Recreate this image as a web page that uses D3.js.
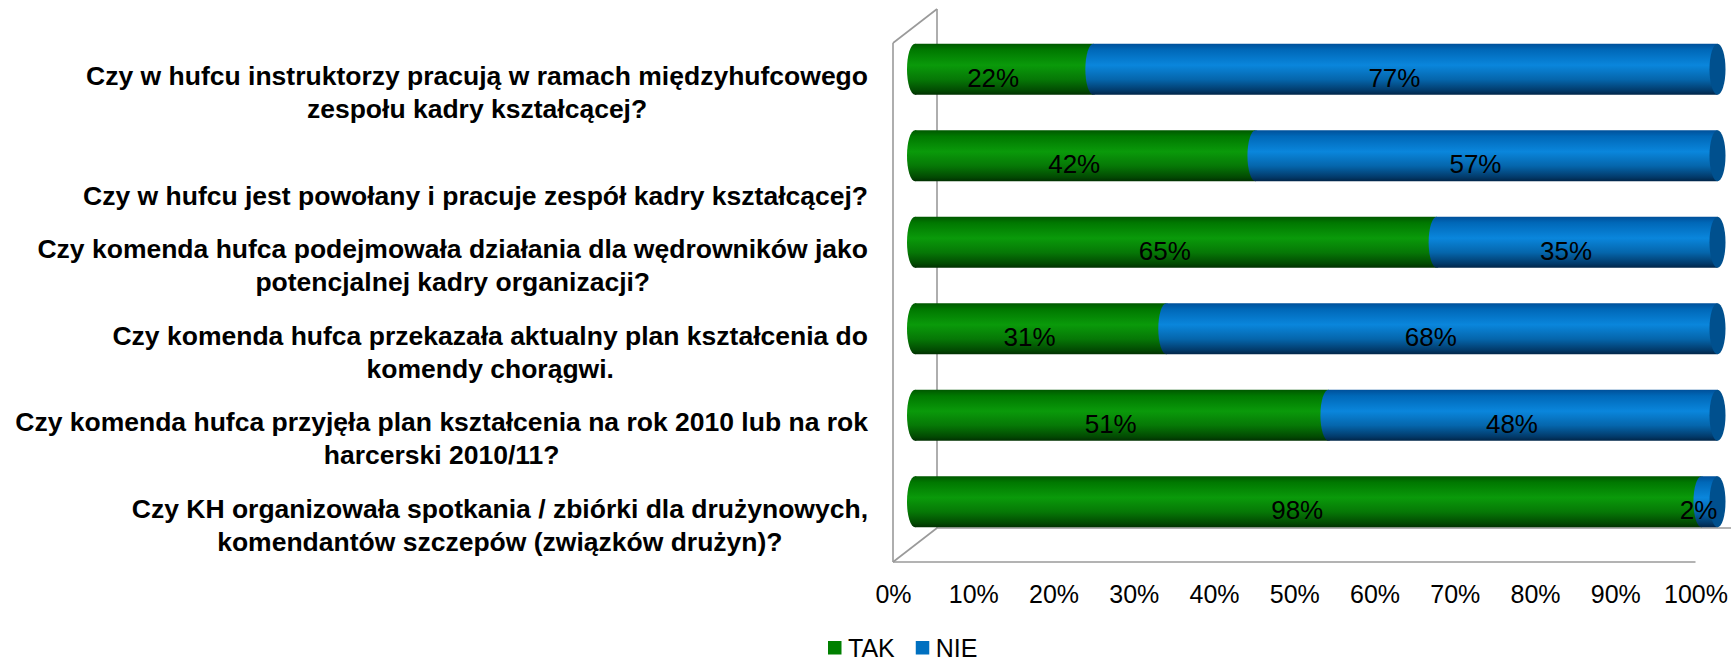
<!DOCTYPE html>
<html><head><meta charset="utf-8">
<script src="https://cdn.jsdelivr.net/npm/d3@7"></script>
<style>
body{margin:0;background:#fff}
svg{display:block}
text{font-family:"Liberation Sans",Arial,sans-serif;fill:#000}
</style>
</head><body>
<svg id="c" width="1731" height="663"></svg>
<script>
// ---- data ----
const categories = [
  ["Czy w hufcu instruktorzy pracują w ramach międzyhufcowego", "zespołu kadry kształcącej?"],
  ["", "Czy w hufcu jest powołany i pracuje zespół kadry kształcącej?"],
  ["Czy komenda hufca podejmowała działania dla wędrowników jako", "potencjalnej kadry organizacji?"],
  ["Czy komenda hufca przekazała aktualny plan kształcenia do", "komendy chorągwi."],
  ["Czy komenda hufca przyjęła plan kształcenia na rok 2010 lub na rok", "harcerski 2010/11?"],
  ["Czy KH organizowała spotkania / zbiórki dla drużynowych,", "komendantów szczepów (związków drużyn)?"]
];
const seriesNames = ["TAK", "NIE"];
const takValues = [22, 42, 65, 31, 51, 98];
const nieValues = [77, 57, 35, 68, 48, 2];
const tickValues = [0, 0.1, 0.2, 0.3, 0.4, 0.5, 0.6, 0.7, 0.8, 0.9, 1];
const tickLabels = ["0%", "10%", "20%", "30%", "40%", "50%", "60%", "70%", "80%", "90%", "100%"];

// ---- layout ----
const svg = d3.select("#c");
svg.append("rect").attr("width", 1731).attr("height", 663).attr("fill", "#fff");
const DX = 44, DY = -34;           // 3D depth offset
const x = d3.scaleLinear().domain([0, 1]).range([893, 1695.5]);
const y = d3.scaleBand().domain(d3.range(categories.length)).range([43, 562]);
const barH = 51, rx = 8;
const frontCenter = i => y(i) + y.bandwidth() / 2;

const rows = categories.map((c, i) => ({ i, TAK: takValues[i], NIE: nieValues[i] }));
const stacked = d3.stack().keys(seriesNames).offset(d3.stackOffsetExpand)(rows);

// gradients
const defs = svg.append("defs");
const grads = {
  TAK: [["0", "#005800"], ["0.12", "#007800"], ["0.42", "#0a9a0a"], ["0.7", "#067806"], ["0.92", "#024a02"], ["1", "#013001"]],
  NIE: [["0", "#00509a"], ["0.12", "#0068b8"], ["0.42", "#0a86dc"], ["0.7", "#0566ac"], ["0.92", "#023a6a"], ["1", "#012548"]]
};
Object.entries(grads).forEach(([k, stops]) => {
  const g = defs.append("linearGradient").attr("id", "g" + k).attr("x1", 0).attr("y1", 0).attr("x2", 0).attr("y2", 1);
  stops.forEach(([o, c]) => g.append("stop").attr("offset", o).attr("stop-color", c));
});
const capColor = { TAK: "#056a05", NIE: "#00508e" };

// frame (walls / floor)
const frame = svg.append("g").attr("stroke", "#9a9a9a").attr("stroke-width", 1.6).attr("fill", "none");
const x0 = x(0), yt = y.range()[0], yb = y.range()[1];
frame.append("line").attr("x1", x0 + DX).attr("y1", yt + DY).attr("x2", x0 + DX).attr("y2", yb + DY);
frame.append("line").attr("x1", x0 + DX).attr("y1", yb + DY).attr("x2", x(1) + DX).attr("y2", yb + DY);
frame.append("line").attr("x1", x0).attr("y1", yt).attr("x2", x0).attr("y2", yb);
frame.append("line").attr("x1", x0).attr("y1", yt).attr("x2", x0 + DX).attr("y2", yt + DY);
frame.append("line").attr("x1", x0).attr("y1", yb).attr("x2", x0 + DX).attr("y2", yb + DY);
frame.append("line").attr("x1", x0).attr("y1", yb).attr("x2", x(1)).attr("y2", yb);

// bars (cylinders)
const bars = svg.append("g");
stacked.forEach((s, si) => {
  s.forEach((d, i) => {
    const a = x(d[0]) + DX / 2, b = x(d[1]) + DX / 2;
    const cy = frontCenter(i) + DY / 2;
    const g = bars.append("g");
    g.append("rect").attr("x", a).attr("y", cy - barH / 2).attr("width", Math.max(0, b - a)).attr("height", barH)
      .attr("fill", `url(#g${s.key})`);
    g.append("ellipse").attr("cx", a).attr("cy", cy).attr("rx", rx).attr("ry", barH / 2)
      .attr("fill", `url(#g${s.key})`);
    if (si === stacked.length - 1) {
      g.append("ellipse").attr("cx", b).attr("cy", cy).attr("rx", rx).attr("ry", barH / 2)
        .attr("fill", capColor[s.key]);
    }
  });
});

// data labels
const lab = svg.append("g").attr("font-size", 26).attr("text-anchor", "middle");
stacked.forEach((s) => {
  s.forEach((d, i) => {
    const v = s.key === "TAK" ? takValues[i] : nieValues[i];
    const cx = (x(d[0]) + x(d[1])) / 2 + DX / 4;
    const cy = frontCenter(i) + DY / 4;
    lab.append("text").attr("x", cx).attr("y", cy + 0.35 * 26).text(v + "%");
  });
});

// category labels
const catFs = 26.5, lineH = 33, rightEdge = 868;
const cats = svg.append("g").attr("font-size", catFs).attr("font-weight", "bold");
categories.forEach((lines, i) => {
  const g = cats.append("g");
  const ts = lines.map(l => g.append("text").attr("text-anchor", "middle").text(l));
  const maxW = d3.max(ts, t => t.node().getComputedTextLength());
  const blockC = frontCenter(i) + 6;
  ts.forEach((t, k) => {
    const lc = blockC + (k - (lines.length - 1) / 2) * lineH;
    t.attr("x", rightEdge - maxW / 2).attr("y", lc + 0.35 * catFs);
  });
});

// x axis
const axis = d3.axisBottom(x).tickValues(tickValues).tickFormat((d, i) => tickLabels[i]).tickSize(0).tickPadding(0);
const ax = svg.append("g").attr("transform", `translate(0,${yb})`).call(axis);
ax.select(".domain").remove();
ax.selectAll("text").attr("font-size", 25).attr("font-family", "Liberation Sans, Arial, sans-serif")
  .attr("fill", "#000").attr("dy", null).attr("y", 41);

// legend
const legColors = { TAK: "#008000", NIE: "#0070c0" };
const leg = svg.append("g");
let lx = 828;
seriesNames.forEach(n => {
  leg.append("rect").attr("x", lx).attr("y", 641).attr("width", 13.5).attr("height", 13.5).attr("fill", legColors[n]);
  const t = leg.append("text").attr("x", lx + 20).attr("y", 657).attr("font-size", 25).text(n);
  lx += 20 + t.node().getComputedTextLength() + 21;
});
</script>
</body></html>
